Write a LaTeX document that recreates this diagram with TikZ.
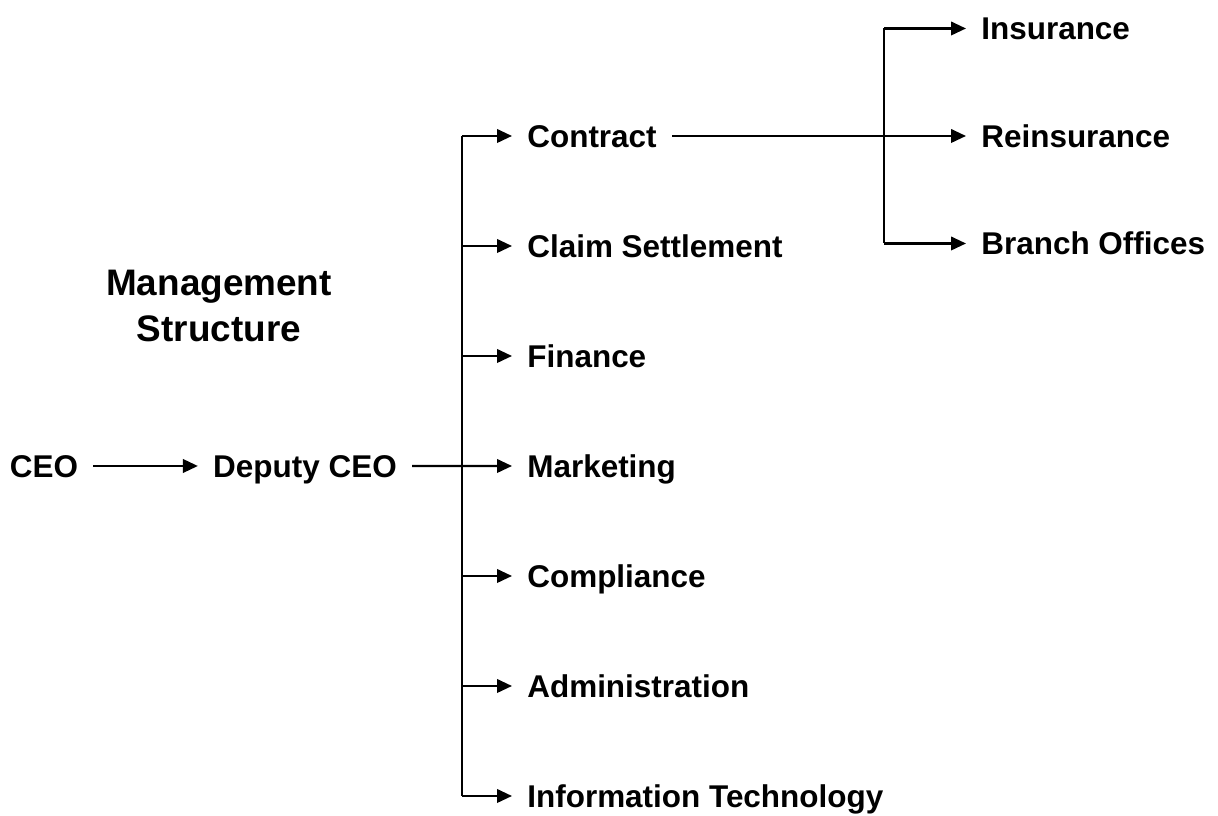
\documentclass[tikz,border=0pt]{standalone}
\usepackage{fontspec}
\setmainfont{Liberation Sans}
\usetikzlibrary{positioning,arrows.meta}

\begin{document}
\begin{tikzpicture}[node distance=2.2cm]

\tikzstyle{lbl} = [font=\bfseries\fontsize{17.9}{21}\selectfont, inner xsep=0.3cm, inner ysep=0pt, text height=0.45cm, text depth=0pt]
\tikzstyle{title} = [font=\bfseries\fontsize{21}{26}\selectfont, align=center]
\tikzstyle{arrow} = [line width=1.3pt, -{Triangle[length=0.3cm,width=0.27cm]}]
\tikzstyle{trunk} = [line width=0.9pt]

\useasboundingbox (0,0) rectangle (24.36,16.32);

% Define nodes
\node (ceo) [lbl] at (0.88,7.0) {CEO};
\node (deputy) [lbl] at (6.1,7.0) {Deputy CEO};
\node (title) [title] at (4.38,10.2) {Management\\Structure};

\node (contract) [lbl, anchor=west] at (10.24,13.6) {Contract};
\node (claim) [lbl, below=of contract.west, anchor=west] {Claim Settlement};
\node (finance) [lbl, below=of claim.west, anchor=west] {Finance};
\node (marketing) [lbl, below=of finance.west, anchor=west] {Marketing};
\node (compliance) [lbl, below=of marketing.west, anchor=west] {Compliance};
\node (admin) [lbl, below=of compliance.west, anchor=west] {Administration};
\node (it) [lbl, below=of admin.west, anchor=west] {Information Technology};

\node (reins) [lbl, anchor=west] at (19.32,13.6) {Reinsurance};
\node (insur) [lbl, above=2.15cm of reins.west, anchor=west] {Insurance};
\node (branch) [lbl, below=2.15cm of reins.west, anchor=west] {Branch Offices};

\coordinate (split) at (9.24,7.0);
\coordinate (subsplit) at (17.68,13.6);

% Draw arrows
\draw [arrow] (ceo) -- (deputy);
\draw [arrow] (deputy) -- (marketing);
\draw [trunk] (split |- contract.west) -- (split |- it.west);
\draw [arrow] (split |- contract.west) -- (contract);
\draw [arrow] (split |- claim.west) -- (claim);
\draw [arrow] (split |- finance.west) -- (finance);
\draw [arrow] (split |- compliance.west) -- (compliance);
\draw [arrow] (split |- admin.west) -- (admin);
\draw [arrow] (split |- it.west) -- (it);

\draw [arrow] (contract) -- (reins);
\draw [trunk] (subsplit |- insur.west) -- (subsplit |- branch.west);
\draw [arrow] (subsplit |- insur.west) -- (insur);
\draw [arrow] (subsplit |- branch.west) -- (branch);

\end{tikzpicture}
\end{document}
